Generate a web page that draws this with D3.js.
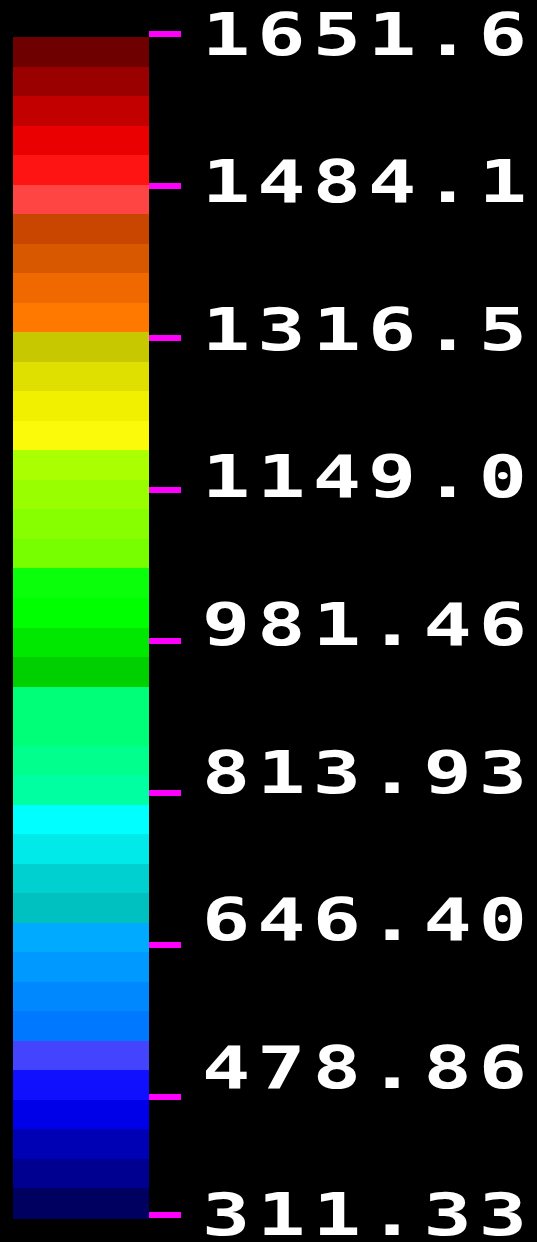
<!DOCTYPE html>
<html>
<head>
<meta charset="utf-8">
<script src="https://cdn.jsdelivr.net/npm/d3@7/dist/d3.min.js"></script>
<style>
  html, body { margin: 0; padding: 0; background: #000; }
  svg { display: block; }
</style>
</head>
<body>
<div id="chart"></div>
<script>
// Colour levels of the bar, from the highest value (top) to the lowest (bottom)
const levelColors = [
  "#6e0000", "#9a0000", "#c20000", "#ea0000", "#ff1414",
  "#ff4444", "#c84600", "#d85800", "#f06800", "#ff7800",
  "#c8c800", "#e0e000", "#f0f000", "#fafa0a", "#aaff00",
  "#99ff00", "#88ff00", "#77ff00", "#0aff0a", "#00ff00",
  "#00e800", "#00d000", "#00ff78", "#00ff78", "#00ff8c",
  "#00ffa0", "#00ffff", "#00eaea", "#00d0d0", "#00c0c0",
  "#00aaff", "#0099ff", "#0088ff", "#0078ff", "#4444ff",
  "#1010ff", "#0000e8", "#0000b4", "#000090", "#000060"
];

// Tick values and their printed labels
const tickValues = [1651.6, 1484.1, 1316.5, 1149.0, 981.46, 813.93, 646.40, 478.86, 311.33];
const tickLabels = ["1651.6", "1484.1", "1316.5", "1149.0", "981.46", "813.93", "646.40", "478.86", "311.33"];

const W = 537, H = 1242;
const bar = { x: 13, w: 136, top: 37, bottom: 1218 };
const tick = { x: 149, w: 32, h: 6 };
const vmin = d3.min(tickValues), vmax = d3.max(tickValues);

const svg = d3.select("#chart").append("svg")
  .attr("width", W).attr("height", H);

svg.append("rect").attr("width", W).attr("height", H).attr("fill", "#000");

// Colour bands
const band = d3.scaleBand()
  .domain(d3.range(levelColors.length))
  .range([bar.top, bar.bottom])
  .paddingInner(0).paddingOuter(0);

svg.append("g").selectAll("rect")
  .data(levelColors)
  .join("rect")
  .attr("x", bar.x)
  .attr("y", (d, i) => band(i))
  .attr("width", bar.w)
  .attr("height", band.bandwidth() + 0.5)
  .attr("fill", d => d)
  .attr("shape-rendering", "crispEdges");

// Label positions follow the value scale along the bar
const y = d3.scaleLinear()
  .domain([vmin, vmax])
  .range([bar.bottom - 3.5, bar.top - 2.5]);

// Tick marks sit on a fixed row pitch, held to the end of the bar
const rowPitch = 151.86;
const tickY = d3.scaleLinear()
  .domain([vmax, vmin])
  .range([bar.top - 3, bar.top - 3 + (tickValues.length - 1) * rowPitch]);
const tickPos = v => Math.min(tickY(v), bar.bottom - 3);

svg.append("g").selectAll("rect")
  .data(tickValues)
  .join("rect")
  .attr("x", tick.x)
  .attr("y", d => Math.round(tickPos(d) - tick.h / 2))
  .attr("width", tick.w)
  .attr("height", tick.h)
  .attr("fill", "#ff00ff")
  .attr("shape-rendering", "crispEdges");

// Labels: wide monospaced digits
const sx = 1.38;
svg.append("g").selectAll("text")
  .data(tickValues)
  .join("text")
  .attr("transform", d => `translate(202, ${y(d) + 20.5}) scale(${sx}, 1)`)
  .attr("x", 0)
  .attr("y", 0)
  .attr("fill", "#fff")
  .attr("font-family", "'DejaVu Sans Mono', 'Liberation Mono', monospace")
  .attr("font-weight", "bold")
  .attr("font-size", 58)
  .attr("letter-spacing", 5.2)
  .text((d, i) => tickLabels[i]);
</script>
</body>
</html>
